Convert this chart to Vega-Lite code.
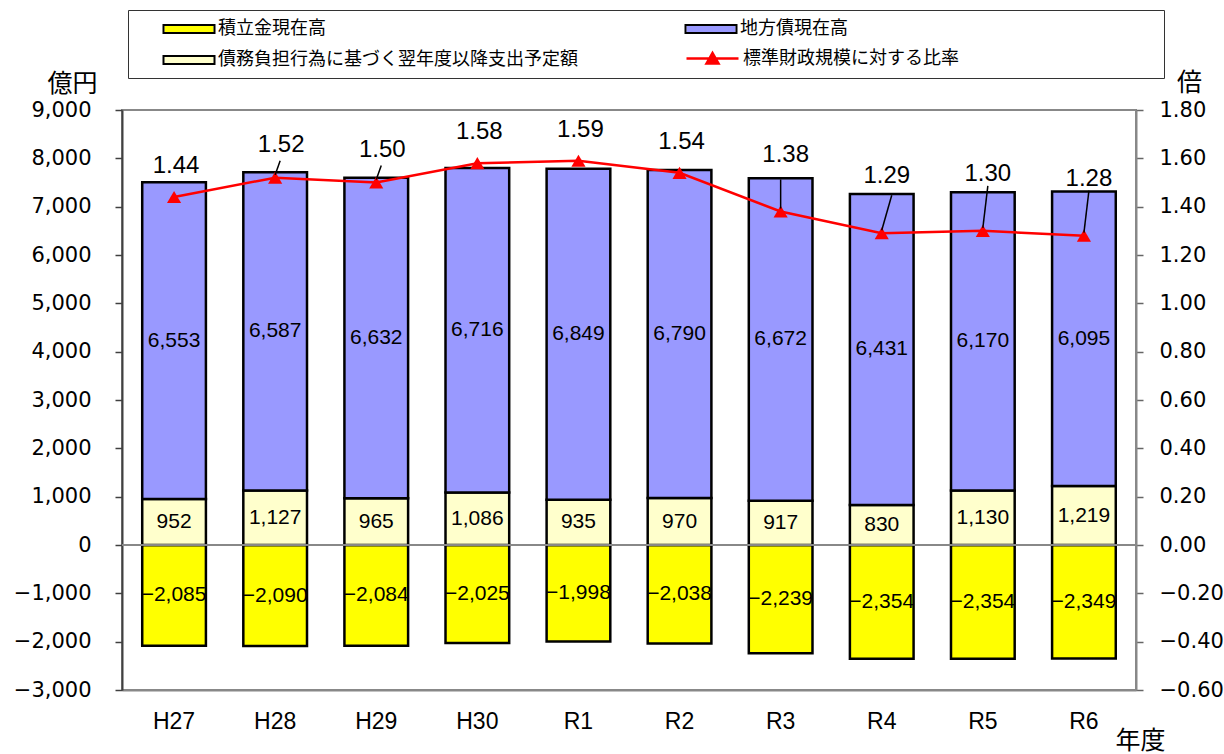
{
  "$schema": "https://vega.github.io/schema/vega-lite/v6.json",
  "width": 1014,
  "height": 580,
  "autosize": {"type": "none"},
  "padding": {"left": 122, "top": 110, "right": 88, "bottom": 64},
  "background": "white",
  "config": {
    "view": {"stroke": "#888888", "strokeWidth": 2},
    "font": "Liberation Sans",
    "text": {"font": "Liberation Sans", "color": "black"}
  },
  "datasets": {
    "t": [
      {"year": "H27", "積立金現在高": -2085, "債務負担行為に基づく翌年度以降支出予定額": 952, "地方債現在高": 6553, "ratio": 1.44},
      {"year": "H28", "積立金現在高": -2090, "債務負担行為に基づく翌年度以降支出予定額": 1127, "地方債現在高": 6587, "ratio": 1.52},
      {"year": "H29", "積立金現在高": -2084, "債務負担行為に基づく翌年度以降支出予定額": 965, "地方債現在高": 6632, "ratio": 1.50},
      {"year": "H30", "積立金現在高": -2025, "債務負担行為に基づく翌年度以降支出予定額": 1086, "地方債現在高": 6716, "ratio": 1.58},
      {"year": "R1", "積立金現在高": -1998, "債務負担行為に基づく翌年度以降支出予定額": 935, "地方債現在高": 6849, "ratio": 1.59},
      {"year": "R2", "積立金現在高": -2038, "債務負担行為に基づく翌年度以降支出予定額": 970, "地方債現在高": 6790, "ratio": 1.54},
      {"year": "R3", "積立金現在高": -2239, "債務負担行為に基づく翌年度以降支出予定額": 917, "地方債現在高": 6672, "ratio": 1.38},
      {"year": "R4", "積立金現在高": -2354, "債務負担行為に基づく翌年度以降支出予定額": 830, "地方債現在高": 6431, "ratio": 1.29},
      {"year": "R5", "積立金現在高": -2354, "債務負担行為に基づく翌年度以降支出予定額": 1130, "地方債現在高": 6170, "ratio": 1.30},
      {"year": "R6", "積立金現在高": -2349, "債務負担行為に基づく翌年度以降支出予定額": 1219, "地方債現在高": 6095, "ratio": 1.28}
    ]
  },
  "data": {"name": "t"},
  "layer": [
    {
      "transform": [
        {"fold": ["積立金現在高", "債務負担行為に基づく翌年度以降支出予定額", "地方債現在高"], "as": ["series", "value"]},
        {"calculate": "indexof(['積立金現在高','債務負担行為に基づく翌年度以降支出予定額','地方債現在高'], datum.series)", "as": "ord"},
        {"calculate": "datum.series", "as": "frameKey"},
        {"stack": "value", "groupby": ["year"], "sort": [{"field": "ord", "order": "ascending"}], "as": ["v0", "v1"]},
        {"calculate": "(datum.v0 + datum.v1) / 2", "as": "mid"}
      ],
      "layer": [
        {
          "mark": {"type": "bar", "stroke": "black", "strokeWidth": 2.5},
          "encoding": {
            "x": {"field": "year", "type": "nominal", "sort": null,
              "scale": {"paddingInner": 0.37, "paddingOuter": 0.2},
              "axis": {"title": "年度", "titleFont": "Noto Sans CJK JP", "titleFontSize": 25, "titleFontWeight": "normal", "titleColor": "black",
                "titleAngle": 0, "titleX": 1018, "titleY": 50, "titleAlign": "center", "titleBaseline": "middle",
                "labelAngle": 0, "labelFontSize": 23, "labelColor": "black", "labelPadding": 20, "ticks": false,
                "domainColor": "#888888", "domainWidth": 2}},
            "y": {"field": "v0", "type": "quantitative",
              "scale": {"domain": [-3000, 9000], "nice": false, "zero": false},
              "axis": {"values": [-3000, -2000, -1000, 0, 1000, 2000, 3000, 4000, 5000, 6000, 7000, 8000, 9000],
                "format": ",.0f", "grid": false, "labelFont": "DejaVu Sans", "labelFontSize": 21, "labelColor": "black", "labelPadding": 24,
                "tickSize": 7, "tickColor": "#404040", "tickWidth": 1.5, "domainColor": "#404040", "domainWidth": 2,
                "title": "億円", "titleFont": "Noto Sans CJK JP", "titleFontSize": 25, "titleFontWeight": "normal", "titleColor": "black",
                "titleAngle": 0, "titleX": -50, "titleY": -27, "titleAlign": "center", "titleBaseline": "middle"}},
            "y2": {"field": "v1"},
            "color": {"field": "series", "type": "nominal",
              "scale": {"domain": ["積立金現在高", "債務負担行為に基づく翌年度以降支出予定額", "地方債現在高"],
                "range": ["#FFFF00", "#FFFFCC", "#9999FF"]},
              "legend": {"orient": "none", "legendX": 6, "legendY": -100, "columns": 2,
                "title": "　", "titleOrient": "right", "titlePadding": 307, "titleFontSize": 18, "titleOpacity": 0,
                "strokeColor": "#333333", "padding": 9, "rowPadding": 12, "columnPadding": 81,
                "gridAlign": "all", "labelFontSize": 18, "labelFont": "Noto Sans CJK JP", "labelColor": "black",
                "labelLimit": 600, "labelOffset": 19, "symbolSize": 400, "symbolOffset": 42, "symbolStrokeWidth": 0,
                "symbolType": "M-2.45,-0.3H2.45V0.3H-2.45Z", "symbolOpacity": 1}},
            "strokeDash": {"field": "frameKey", "type": "nominal",
              "scale": {"domain": ["債務負担行為に基づく翌年度以降支出予定額", "積立金現在高", "地方債現在高"],
                "range": [[1, 0], [1, 0], [1, 0]]},
              "legend": {"orient": "none", "legendX": 6, "legendY": -100, "columns": 2,
                "title": "　", "titleOrient": "right", "titlePadding": 307, "titleFontSize": 18, "titleOpacity": 0,
                "padding": 9, "rowPadding": 12, "columnPadding": 81,
                "gridAlign": "all", "labelFontSize": 18, "labelFont": "Noto Sans CJK JP", "labelOpacity": 0,
                "labelLimit": 600, "labelOffset": 19, "symbolSize": 400, "symbolOffset": 42,
                "symbolType": "M-2.65,-0.5H2.65V0.5H-2.65Z M-2.45,-0.3V0.3H2.45V-0.3Z",
                "symbolFillColor": "black", "symbolStrokeWidth": 0, "symbolOpacity": 1}}
          }
        },
        {
          "mark": {"type": "text", "fontSize": 21, "baseline": "middle"},
          "encoding": {
            "x": {"field": "year", "type": "nominal", "sort": null},
            "y": {"field": "mid", "type": "quantitative"},
            "text": {"field": "value", "type": "quantitative", "format": ",.0f"}
          }
        },
        {
          "data": {"values": [{}]},
          "mark": {"type": "rule", "color": "#888888", "strokeWidth": 2},
          "encoding": {"y": {"datum": 0}}
        }
      ]
    },
    {
      "layer": [
        {
          "mark": {"type": "line", "strokeWidth": 2.5},
          "encoding": {
            "x": {"field": "year", "type": "nominal", "sort": null},
            "y": {"field": "ratio", "type": "quantitative",
              "scale": {"domain": [-0.6, 1.8], "nice": false, "zero": false},
              "axis": {"orient": "right", "values": [-0.6, -0.4, -0.2, 0, 0.2, 0.4, 0.6, 0.8, 1.0, 1.2, 1.4, 1.6, 1.8],
                "format": ".2f", "grid": false, "labelFont": "DejaVu Sans", "labelFontSize": 21, "labelColor": "black", "labelPadding": 16,
                "tickSize": 7, "tickColor": "#666666", "tickWidth": 1.5, "domainColor": "#888888", "domainWidth": 2,
                "title": "倍", "titleFont": "Noto Sans CJK JP", "titleFontSize": 25, "titleFontWeight": "normal", "titleColor": "black",
                "titleAngle": 0, "titleX": 53, "titleY": -28, "titleAlign": "center", "titleBaseline": "middle"}},
            "stroke": {"datum": "標準財政規模に対する比率", "scale": {"range": ["#FF0000"]},
              "legend": {"orient": "none", "legendX": 528, "legendY": -72, "title": null, "padding": 9,
                "labelFontSize": 18, "labelFont": "Noto Sans CJK JP", "labelColor": "black", "labelLimit": 600,
                "labelOffset": 19, "symbolSize": 400, "symbolOffset": 42, "symbolStrokeWidth": 2.5,
                "symbolType": "M-2.6,0H2.6 M-0.6,0.5L0,-0.55L0.6,0.5Z M-0.36,0.36L0,-0.25L0.36,0.36Z M-0.12,0.22L0,0.02L0.12,0.22Z",
                "symbolFillColor": "#FF0000", "symbolOpacity": 1}}
          }
        },
        {
          "mark": {"type": "point", "shape": "triangle-up", "filled": true, "color": "#FF0000", "size": 200, "opacity": 1},
          "encoding": {
            "x": {"field": "year", "type": "nominal", "sort": null},
            "y": {"field": "ratio", "type": "quantitative"}
          }
        },
        {
          "transform": [{"filter": "indexof(['H27','H30','R1','R2'], datum.year) >= 0"}],
          "mark": {"type": "text", "fontSize": 24, "baseline": "middle", "dy": -31, "dx": 2},
          "encoding": {
            "x": {"field": "year", "type": "nominal", "sort": null},
            "y": {"field": "ratio", "type": "quantitative"},
            "text": {"field": "ratio", "type": "quantitative", "format": ".2f"}
          }
        },
        {
          "transform": [{"filter": "indexof(['H28','H29'], datum.year) >= 0"}],
          "mark": {"type": "text", "fontSize": 24, "baseline": "middle", "dy": -33, "dx": 6},
          "encoding": {
            "x": {"field": "year", "type": "nominal", "sort": null},
            "y": {"field": "ratio", "type": "quantitative"},
            "text": {"field": "ratio", "type": "quantitative", "format": ".2f"}
          }
        },
        {
          "transform": [{"filter": "indexof(['R3','R4','R5','R6'], datum.year) >= 0"}],
          "mark": {"type": "text", "fontSize": 24, "baseline": "middle", "dy": -57, "dx": 5},
          "encoding": {
            "x": {"field": "year", "type": "nominal", "sort": null},
            "y": {"field": "ratio", "type": "quantitative"},
            "text": {"field": "ratio", "type": "quantitative", "format": ".2f"}
          }
        },
        {
          "transform": [{"filter": "indexof(['H28','H29'], datum.year) >= 0"}],
          "mark": {"type": "rule", "color": "black", "strokeWidth": 1.5, "yOffset": -3, "y2Offset": -17, "x2Offset": 5},
          "encoding": {
            "x": {"field": "year", "type": "nominal", "sort": null},
            "x2": {"field": "year"},
            "y": {"field": "ratio", "type": "quantitative"},
            "y2": {"field": "ratio"}
          }
        },
        {
          "transform": [{"filter": "datum.year === 'R3'"}],
          "mark": {"type": "rule", "color": "black", "strokeWidth": 1.5, "yOffset": -3, "y2Offset": -32, "x2Offset": 0},
          "encoding": {
            "x": {"field": "year", "type": "nominal", "sort": null},
            "x2": {"field": "year"},
            "y": {"field": "ratio", "type": "quantitative"},
            "y2": {"field": "ratio"}
          }
        },
        {
          "transform": [{"filter": "datum.year === 'R4'"}],
          "mark": {"type": "rule", "color": "black", "strokeWidth": 1.5, "yOffset": -3, "y2Offset": -38, "x2Offset": 10},
          "encoding": {
            "x": {"field": "year", "type": "nominal", "sort": null},
            "x2": {"field": "year"},
            "y": {"field": "ratio", "type": "quantitative"},
            "y2": {"field": "ratio"}
          }
        },
        {
          "transform": [{"filter": "indexof(['R5','R6'], datum.year) >= 0"}],
          "mark": {"type": "rule", "color": "black", "strokeWidth": 1.5, "yOffset": -3, "y2Offset": -45, "x2Offset": 5},
          "encoding": {
            "x": {"field": "year", "type": "nominal", "sort": null},
            "x2": {"field": "year"},
            "y": {"field": "ratio", "type": "quantitative"},
            "y2": {"field": "ratio"}
          }
        }
      ]
    }
  ],
  "resolve": {"scale": {"y": "independent"}}
}
